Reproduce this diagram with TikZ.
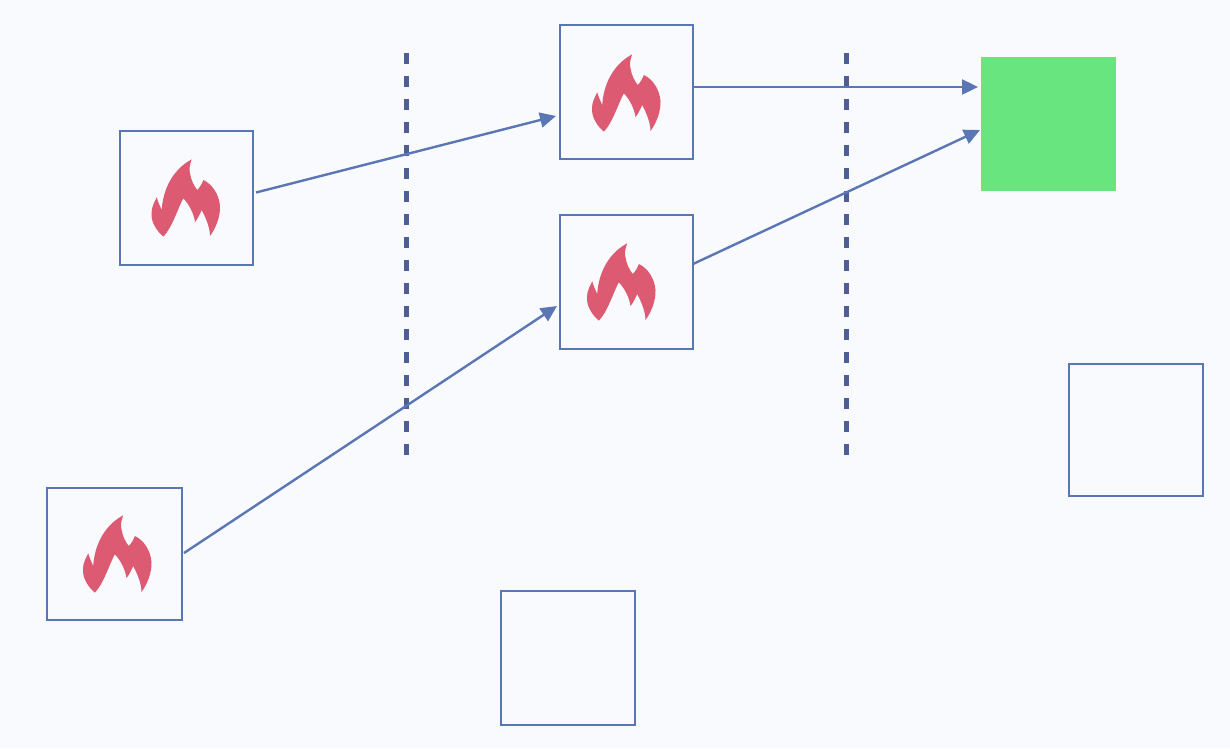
\documentclass[tikz,border=0pt]{standalone}
\usetikzlibrary{arrows.meta}
\definecolor{bgc}{HTML}{F8FAFE}
\definecolor{linec}{HTML}{5B76B5}
\definecolor{dashc}{HTML}{4F5F96}
\definecolor{flamec}{HTML}{DC5A72}
\definecolor{greenc}{HTML}{69E57F}
\tikzset{
  cellbox/.style={draw=linec,line width=2pt,fill=none,minimum width=133pt,minimum height=134pt,inner sep=0pt,outer sep=0pt},
  goalbox/.style={draw=none,fill=greenc,minimum width=135pt,minimum height=134pt,inner sep=0pt,outer sep=0pt},
  flow/.style={draw=linec,line width=2.4pt,-{Triangle[length=16pt,width=15pt]}},
  border/.style={draw=dashc,line width=4.6pt,dash pattern=on 11pt off 12pt},
  flame/.pic={
    \fill[flamec] (5.7,-38.7) .. controls (3.5,-33) and (3,-28) .. (4,-24.7)
      .. controls (5,-18) and (8,-12) .. (11.3,-8)
      .. controls (14,-11) and (16,-14) .. (17.3,-18)
      .. controls (26,-14) and (33,-4) .. (34,8)
      .. controls (34.5,18) and (30,30) .. (24,38)
      .. controls (24,30) and (20,20) .. (15.7,12)
      .. controls (14,16) and (11.5,21) .. (9,24)
      .. controls (8,16) and (3,6) .. (-2.7,0.3)
      .. controls (-8,10) and (-14,30) .. (-22.7,38.7)
      .. controls (-29,33) and (-35,25) .. (-34.5,15)
      .. controls (-34.5,9) and (-31.5,4) .. (-29.3,-0.7)
      .. controls (-28,4) and (-26,8) .. (-24.3,12)
      .. controls (-23,-8) and (-14,-28) .. (5.7,-38.7) -- cycle;
  }
}
\begin{document}
\begin{tikzpicture}[x=1pt,y=-1pt]
\useasboundingbox[fill=bgc] (0,0) rectangle (1230,748);
\coordinate (d1t) at (406.5,53);
\coordinate (d1b) at (406.5,456);
\coordinate (d2t) at (846.5,53);
\coordinate (d2b) at (846.5,456);
\draw[border] (d1t) -- (d1b);
\draw[border] (d2t) -- (d2b);
\node[cellbox] (a) at (186.5,197.5) {};
\node[cellbox] (b) at (626.5,92) {};
\node[cellbox] (c) at (626.5,282) {};
\node[cellbox,minimum width=135pt,minimum height=132pt] (d) at (114.5,554) {};
\node[goalbox] (g) at (1048.5,124) {};
\node[cellbox,minimum width=134pt,minimum height=132pt] (e) at (1136,430) {};
\node[cellbox,minimum width=134pt] (f) at (568,658) {};
\pic at (186,198) {flame};
\pic at (626.5,93) {flame};
\pic at (621.5,282) {flame};
\pic at (117.5,554) {flame};
\draw[flow] ([shift={(3,-5)}]a.east) -- ([shift={(-4,24)}]b.west);
\draw[flow] (b.east |- 0,87) -- ([shift={(-3,-37)}]g.west);
\draw[flow] ([shift={(0,-18)}]c.east) -- ([shift={(-1,6)}]g.west);
\draw[flow] ([shift={(2,-1)}]d.east) -- ([shift={(-3,24)}]c.west);
\end{tikzpicture}
\end{document}
